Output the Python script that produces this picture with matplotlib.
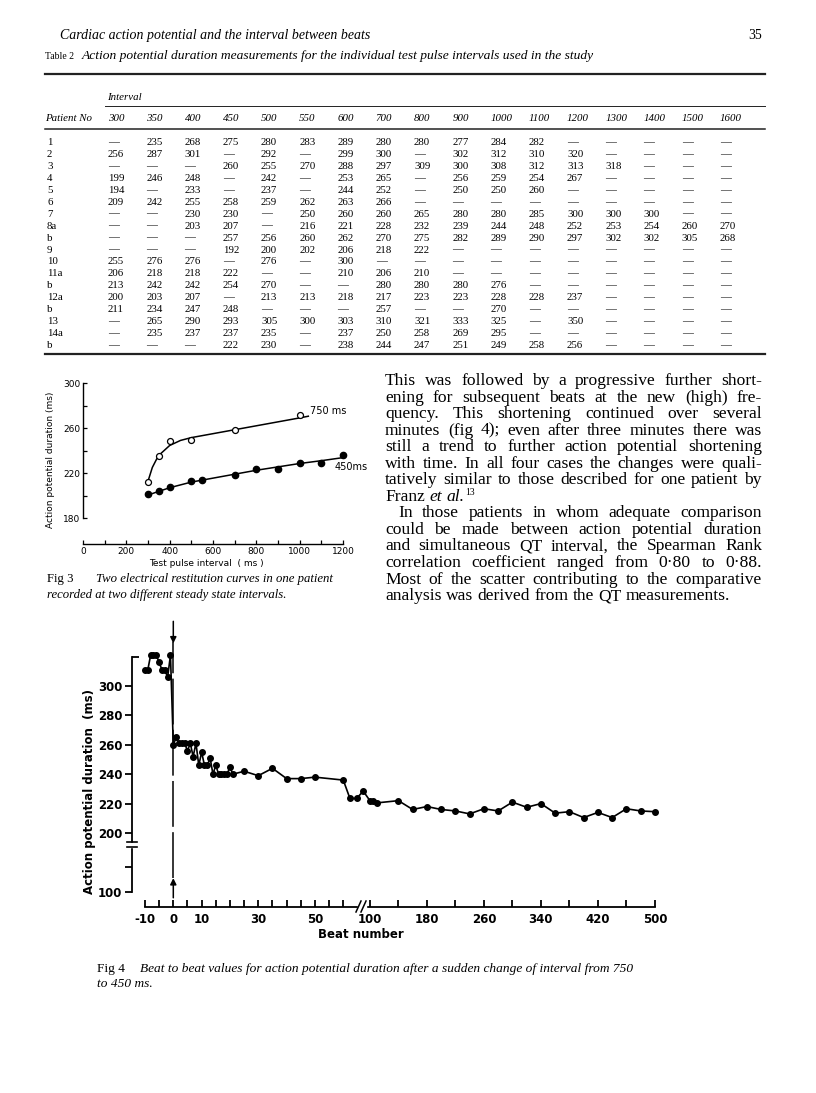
import numpy as np
import matplotlib
matplotlib.use('Agg')
import matplotlib.pyplot as plt
from matplotlib.lines import Line2D
from matplotlib.patches import Rectangle

W, H = 816, 1093

# ---------------- Table 2: action potential duration (ms), None = no value
intervals = [300, 350, 400, 450, 500, 550, 600, 700, 800, 900, 1000, 1100, 1200, 1300, 1400, 1500, 1600]
patients = ['1', '2', '3', '4', '5', '6', '7', '8a', 'b', '9', '10', '11a', 'b', '12a', 'b', '13', '14a', 'b']
apd_rows = [
  [None, 235, 268, 275, 280, 283, 289, 280, 280, 277, 284, 282, None, None, None, None, None],
  [256, 287, 301, None, 292, None, 299, 300, None, 302, 312, 310, 320, None, None, None, None],
  [None, None, None, 260, 255, 270, 288, 297, 309, 300, 308, 312, 313, 318, None, None, None],
  [199, 246, 248, None, 242, None, 253, 265, None, 256, 259, 254, 267, None, None, None, None],
  [194, None, 233, None, 237, None, 244, 252, None, 250, 250, 260, None, None, None, None, None],
  [209, 242, 255, 258, 259, 262, 263, 266, None, None, None, None, None, None, None, None, None],
  [None, None, 230, 230, None, 250, 260, 260, 265, 280, 280, 285, 300, 300, 300, None, None],
  [None, None, 203, 207, None, 216, 221, 228, 232, 239, 244, 248, 252, 253, 254, 260, 270],
  [None, None, None, 257, 256, 260, 262, 270, 275, 282, 289, 290, 297, 302, 302, 305, 268],
  [None, None, None, 192, 200, 202, 206, 218, 222, None, None, None, None, None, None, None, None],
  [255, 276, 276, None, 276, None, 300, None, None, None, None, None, None, None, None, None, None],
  [206, 218, 218, 222, None, None, 210, 206, 210, None, None, None, None, None, None, None, None],
  [213, 242, 242, 254, 270, None, None, 280, 280, 280, 276, None, None, None, None, None, None],
  [200, 203, 207, None, 213, 213, 218, 217, 223, 223, 228, 228, 237, None, None, None, None],
  [211, 234, 247, 248, None, None, None, 257, None, None, 270, None, None, None, None, None, None],
  [None, 265, 290, 293, 305, 300, 303, 310, 321, 333, 325, None, 350, None, None, None, None],
  [None, 235, 237, 237, 235, None, 237, 250, 258, 269, 295, None, None, None, None, None, None],
  [None, None, None, 222, 230, None, 238, 244, 247, 251, 249, 258, 256, None, None, None, None],
]

# ---------------- Fig 3: restitution curves
pulse_750 = [300, 350, 400, 500, 700, 1000]
apd_750 = [212, 235, 248.5, 249.5, 258, 272]
pulse_450 = [300, 350, 400, 500, 550, 700, 800, 900, 1000, 1100, 1200]
apd_450 = [201, 204, 208, 213, 214, 218.5, 224, 223.5, 229, 229, 236]
# hand drawn fitted curves
fit_750_x = [302, 320, 340, 360, 400, 450, 500, 600, 700, 800, 900, 1000, 1040]
fit_750_y = [214, 225, 232.5, 237.5, 244.5, 249, 251.5, 255, 258.5, 262, 265.5, 269, 270.5]
fit_450_x = [300, 400, 500, 600, 700, 800, 900, 1000, 1100, 1210]
fit_450_y = [200.5, 207, 212, 215.5, 219, 222.5, 225.5, 228.5, 231, 234]

# ---------------- Fig 4: beat to beat APD
beat = [-10, -9, -8, -7, -6, -5, -4, -3, -2, -1,
        0, 1, 2, 3, 4, 5, 6, 7, 8, 9, 10, 11, 12, 13, 14, 15, 16, 17, 18, 19, 20, 21,
        25, 30, 35, 40, 45, 50, 60, 70, 80, 90, 100, 105, 110,
        140, 160, 180, 200, 220, 240, 260, 280, 300, 320, 340, 360, 380, 400, 420, 440, 460, 480, 500]
apd_beat = [311, 311, 321, 321, 321, 316, 311, 311, 306, 321,
            260, 265, 261, 261, 261, 256, 261, 252, 261, 246, 255, 246, 246, 251, 240, 246, 240, 240, 240, 240, 245, 240,
            242, 239, 244, 237, 237, 238, 236, 223.5, 223.5, 228.5, 222, 222, 220.5,
            222, 216, 218, 216, 215, 213, 216.5, 215, 221, 217.5, 220, 213.5, 214.5, 210.5, 214, 210.5, 216.5, 215, 214.5]
change_beat = 0

SERIF = 'Liberation Serif'
SANS = 'DejaVu Sans'

fig = plt.figure(figsize=(W / 100, H / 100), dpi=100)
fig.patch.set_facecolor('white')

def fx(x):
  return x / W

def fy(y):
  return 1 - y / H

def hline(x0, x1, y, lw=1.0, color='#222222'):
  fig.add_artist(Line2D([fx(x0), fx(x1)], [fy(y), fy(y)], lw=lw, color=color,
                        transform=fig.transFigure))

renderer = fig.canvas.get_renderer()

def put_words(tokens, x0, y, x1=None, gap=0.0):
  arts = [fig.text(fx(x0), fy(y), s, va='baseline', ha='left', **kw) for s, kw in tokens]
  widths = [a.get_window_extent(renderer).width for a in arts]
  if x1 is not None and len(arts) > 1:
    g = (x1 - x0 - sum(widths)) / (len(arts) - 1)
  else:
    g = gap
  x = x0
  for a, w in zip(arts, widths):
    a.set_x(fx(x))
    x += w + g
  return x - g

# ---------------- page header
fig.text(fx(60), fy(39), 'Cardiac action potential and the interval between beats',
         family=SERIF, style='italic', size=10, va='baseline')
fig.text(fx(762), fy(39), '35', family=SERIF, size=10, va='baseline', ha='right')

# ---------------- table
fig.text(fx(45), fy(59), 'Table 2', family=SERIF, size=7, va='baseline')
fig.text(fx(82), fy(59), 'Action potential duration measurements for the individual test pulse intervals used in the study',
         family=SERIF, style='italic', size=9.7, va='baseline')
hline(45, 765, 74, lw=1.6)
fig.text(fx(107), fy(100), 'Interval', family=SERIF, style='italic', size=7.8, va='baseline')
hline(105, 765, 106, lw=0.7)
col_x = 108 + 38.25 * np.arange(len(intervals))
fig.text(fx(45), fy(121), 'Patient No', family=SERIF, style='italic', size=7.8, va='baseline')
for cx, iv in zip(col_x, intervals):
  fig.text(fx(cx), fy(121), str(iv), family=SERIF, style='italic', size=7.8, va='baseline')
hline(45, 765, 129, lw=1.1)
for i, (pt, row) in enumerate(zip(patients, apd_rows)):
  by = 145 + i * 11.95
  fig.text(fx(47), fy(by), pt, family=SERIF, size=7.8, va='baseline')
  for cx, v in zip(col_x, row):
    fig.text(fx(cx), fy(by), '\u2014' if v is None else str(v), family=SERIF, size=7.8, va='baseline')
hline(45, 765, 354, lw=1.6)

# ---------------- Fig 3
ax3 = fig.add_axes([fx(70), fy(544), (369 - 70) / W, (544 - 371.75) / H])
ax3.set_xlim(-60, 1320)
ax3.set_ylim(157, 310)
ax3.plot(fit_750_x, fit_750_y, color='k', lw=1.1)
ax3.plot(fit_450_x, fit_450_y, color='k', lw=1.1)
ax3.plot(pulse_750, apd_750, 'o', ms=4.3, mfc='white', mec='k', mew=0.9)
ax3.plot(pulse_450, apd_450, 'o', ms=4.5, mfc='k', mec='k')
ax3.text(1050, 275, '750 ms', fontsize=7, family=SANS, va='center')
ax3.text(1160, 225, '450ms', fontsize=7, family=SANS, va='center')
for s in ['top', 'right']:
  ax3.spines[s].set_visible(False)
ax3.spines['left'].set_position(('data', 0))
ax3.spines['left'].set_bounds(180, 300)
ax3.spines['bottom'].set_bounds(0, 1200)
for s in ['left', 'bottom']:
  ax3.spines[s].set_linewidth(1.0)
ax3.set_yticks([180, 220, 260, 300])
ax3.set_yticks([200, 240, 280], minor=True)
ax3.set_xticks(np.arange(0, 1201, 200))
ax3.set_xticks(np.arange(100, 1200, 200), minor=True)
ax3.tick_params(which='both', direction='in', length=3, width=0.9, labelsize=6.5, pad=2)
for lab in ax3.get_xticklabels() + ax3.get_yticklabels():
  lab.set_family(SANS)
ax3.patch.set_alpha(0)
fig.text(fx(51), fy(460), 'Action potential duration (ms)', rotation=90, family=SANS, size=6.5,
         ha='center', va='center')
fig.text(fx(206), fy(564), 'Test pulse interval  ( ms )', family=SANS, size=6.5, ha='center', va='center')

fig.text(fx(47), fy(582), 'Fig 3', family=SERIF, size=9.2, va='baseline')
fig.text(fx(96), fy(582), 'Two electrical restitution curves in one patient', family=SERIF,
         style='italic', size=9.2, va='baseline')
fig.text(fx(47), fy(598), 'recorded at two different steady state intervals.', family=SERIF,
         style='italic', size=9.2, va='baseline')

# ---------------- body text
para = [
  ('This was followed by a progressive further short-', 385, True),
  ('ening for subsequent beats at the new (high) fre-', 385, True),
  ('quency. This shortening continued over several', 385, True),
  ('minutes (fig 4); even after three minutes there was', 385, True),
  ('still a trend to further action potential shortening', 385, True),
  ('with time. In all four cases the changes were quali-', 385, True),
  ('tatively similar to those described for one patient by', 385, True),
  (None, 385, False),
  ('In those patients in whom adequate comparison', 398, True),
  ('could be made between action potential duration', 385, True),
  ('and simultaneous QT interval, the Spearman Rank', 385, True),
  ('correlation coefficient ranged from 0\u00b780 to 0\u00b788.', 385, True),
  ('Most of the scatter contributing to the comparative', 385, True),
  ('analysis was derived from the QT measurements.', 385, False),
]
BODY_PT = 12.6
body = dict(family=SERIF, size=BODY_PT)
space = BODY_PT * 100 / 72 * 0.25
for i, (line, x0, just) in enumerate(para):
  by = 385 + i * 16.55
  if line is None:
    xe = put_words([('Franz', body), ('et', dict(body, style='italic')), ('al.', dict(body, style='italic'))],
                   x0, by, gap=space)
    fig.text(fx(xe + 1), fy(by - 6), '13', family=SERIF, size=7, va='baseline')
    continue
  toks = [(w, body) for w in line.split()]
  put_words(toks, x0, by, x1=762 if just else None, gap=space)

# ---------------- Fig 4
def fwd_x(b):
  return np.interp(b, [-1000, 60, 100, 5000], [-1000, 60, 69.4, 69.4 + 4900 * 0.2515])

def inv_x(u):
  return np.interp(u, [-1000, 60, 69.4, 69.4 + 4900 * 0.2515], [-1000, 60, 100, 5000])

def fwd_y(v):
  return np.interp(v, [-2000, 190, 5000], [190 - 2190 * 0.334, 190, 5000])

def inv_y(w):
  return np.interp(w, [190 - 2190 * 0.334, 190, 5000], [-2000, 190, 5000])

ax4 = fig.add_axes([fx(120), fy(907), (680 - 120) / W, (907 - 615) / H])
ax4.set_xscale('function', functions=(fwd_x, inv_x))
ax4.set_yscale('function', functions=(fwd_y, inv_y))
px_u, px0 = 2.833, 173.3
ax4.set_xlim(inv_x((120 - px0) / px_u), inv_x((680 - px0) / px_u))
ax4.set_ylim(inv_y(300 - (907 - 686) / 1.47), inv_y(300 + (686 - 615) / 1.47))

ax4.plot(beat, apd_beat, '-o', color='k', lw=1.2, ms=4, mfc='k', mec='k', zorder=3)
ax4.plot([change_beat, change_beat], [128, 330], color='k', lw=1.1, dashes=(30, 3.5))
ax4.annotate('', xy=(change_beat, 329), xytext=(change_beat, 344), annotation_clip=False,
             arrowprops=dict(arrowstyle='-|>', color='k', lw=1.1, mutation_scale=9, shrinkA=0, shrinkB=0))
ax4.annotate('', xy=(change_beat, 128), xytext=(change_beat, 88), annotation_clip=False,
             arrowprops=dict(arrowstyle='-|>', color='k', lw=1.1, mutation_scale=9, shrinkA=0, shrinkB=0))

for s in ['top', 'right']:
  ax4.spines[s].set_visible(False)
ax4.spines['left'].set_position(('data', inv_x((132 - px0) / px_u)))
ax4.spines['left'].set_bounds(100, 320)
ax4.spines['bottom'].set_bounds(-10, 500)
for s in ['left', 'bottom']:
  ax4.spines[s].set_linewidth(1.3)

ax4.set_yticks([100, 150, 200, 220, 240, 260, 280, 300])
ax4.set_yticklabels(['100', '', '200', '220', '240', '260', '280', '300'])
ax4.set_yticks([320], minor=True)
ax4.tick_params(axis='y', which='major', direction='out', length=5, width=1.3, labelsize=8.5, pad=2)
ax4.tick_params(axis='y', which='minor', direction='in', length=5, width=1.3)
x_major = [-10, 0, 10, 30, 50, 100, 180, 260, 340, 420, 500]
x_all = list(range(-10, 61, 5)) + list(range(100, 501, 40))
ax4.set_xticks(x_major)
ax4.set_xticklabels([str(v) for v in x_major])
ax4.set_xticks([v for v in x_all if v not in x_major], minor=True)
ax4.tick_params(axis='x', which='both', direction='in', length=5, width=1.3, labelsize=8.5, pad=4)
for lab in ax4.get_xticklabels() + ax4.get_yticklabels():
  lab.set_family(SANS)
  lab.set_fontweight('bold')
ax4.patch.set_alpha(0)

# axis breaks
fig.add_artist(Rectangle((fx(129), fy(846.5)), 6 / W, 4 / H, color='white', transform=fig.transFigure, zorder=5))
for yy in (842, 847):
  fig.add_artist(Line2D([fx(127), fx(137)], [fy(yy), fy(yy)], lw=1.2, color='k', transform=fig.transFigure, zorder=6))
fig.add_artist(Rectangle((fx(358), fy(910)), 8 / W, 6 / H, color='white', transform=fig.transFigure, zorder=5))
for x0 in (356, 361):
  fig.add_artist(Line2D([fx(x0), fx(x0 + 5)], [fy(912), fy(901)], lw=1.1, color='k', transform=fig.transFigure, zorder=6))

fig.text(fx(90), fy(792), 'Action potential duration  (ms)', rotation=90, family=SANS, size=8.5,
         weight='bold', ha='center', va='center')
fig.text(fx(361), fy(935), 'Beat number', family=SANS, size=8.5, weight='bold', ha='center', va='center')

fig.text(fx(97), fy(972), 'Fig 4', family=SERIF, size=9.6, va='baseline')
fig.text(fx(140), fy(972), 'Beat to beat values for action potential duration after a sudden change of interval from 750',
         family=SERIF, style='italic', size=9.6, va='baseline')
fig.text(fx(97), fy(987), 'to 450 ms.', family=SERIF, style='italic', size=9.6, va='baseline')

fig.savefig('out.png', dpi=100)
